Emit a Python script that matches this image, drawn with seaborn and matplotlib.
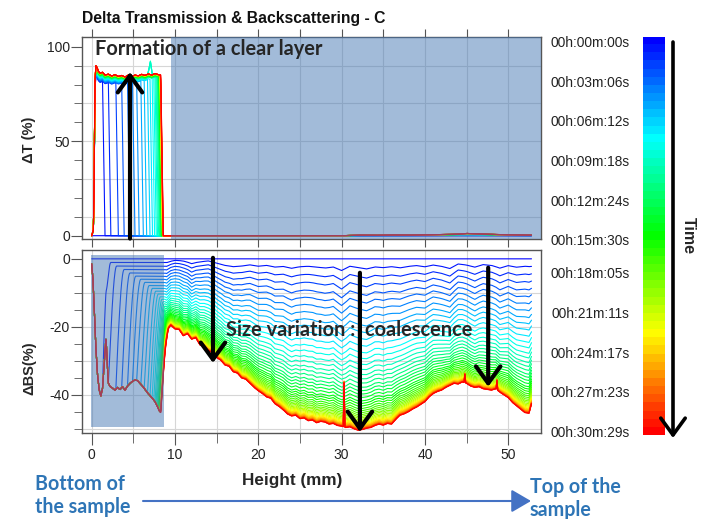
import numpy as np
import pandas as pd
import matplotlib
matplotlib.use("Agg")
import matplotlib.pyplot as plt
import seaborn as sns
from matplotlib.colors import LinearSegmentedColormap, ListedColormap, to_hex
from matplotlib.patches import Rectangle, FancyArrowPatch

# ---------------- data ----------------
time_labels = ["00h:00m:00s", "00h:03m:06s", "00h:06m:12s", "00h:09m:18s",
               "00h:12m:24s", "00h:15m:30s", "00h:18m:05s", "00h:21m:11s",
               "00h:24m:17s", "00h:27m:23s", "00h:30m:29s"]

# relative depth of each scan (fraction of the final ΔBS profile)
amplitude = [0, .053, .105, .155, .205, .25, .295, .34, .385, .425,
             .465, .505, .545, .58, .615, .645, .675, .70, .725, .75,
             .77, .79, .81, .83, .845, .86, .875, .888, .90, .911,
             .921, .93, .939, .947, .954, .961, .967, .972, .977, .981,
             .985, .988, .991, .993, .995, .997, .998, .999, 1.0]
# position (mm) of the clear-layer front for each scan
front_mm = [0, 1.3, 2.0, 2.9, 3.6, 4.3, 4.9, 5.4, 5.9, 6.3,
            6.7, 7.0, 7.25, 7.45, 7.6, 7.72, 7.82, 7.9, 7.96, 8.0,
            8.04, 8.07, 8.1, 8.12, 8.14, 8.16, 8.17, 8.18, 8.19, 8.2,
            8.2, 8.21, 8.21, 8.22, 8.22, 8.23, 8.23, 8.24, 8.24, 8.25,
            8.25, 8.26, 8.26, 8.27, 8.27, 8.28, 8.28, 8.29, 8.3]

# ΔBS inside the clear layer (mm, %)
clear_bs_x = [0.0, 0.15, 0.3, 0.5, 0.7, 0.9, 1.1, 1.3, 1.45, 1.6, 1.72, 1.85, 2.0,
              2.2, 2.5, 2.8, 3.1, 3.4, 3.7, 4.0, 4.3, 4.6, 4.9, 5.2, 5.5, 5.8,
              6.1, 6.4, 6.7, 7.0, 7.3, 7.6, 7.9, 8.1, 8.3, 8.5]
clear_bs_y = [-1.5, -6, -14, -26, -34, -38.5, -40.3, -38, -33, -27, -23, -30, -36.5,
              -37.5, -38, -38.6, -37.8, -38.4, -37.6, -38.6, -37.4, -36.6, -36.0, -35.6, -35.8, -36.6,
              -37.4, -38.4, -39.4, -40.2, -41.0, -42.0, -43.4, -44.6, -45.2, -45.3]

# final ΔBS profile of the turbid part (mm, %)
final_bs_x = [0.0, 8.8] + [9.0 + 0.5 * k for k in range(88)] + [52.8]
final_bs_y = [-20.0, -20.5,
              -21.0, -19.5, -20.6, -20.8, -22.6, -22.0, -23.6, -23.2, -25.3, -25.8,
              -27.0, -27.6, -29.0, -29.8, -31.2, -31.6, -33.2, -33.6, -35.0, -35.4,
              -36.6, -37.8, -38.8, -39.6, -40.6, -41.0, -42.6, -43.4, -44.4, -45.6,
              -46.2, -46.0, -47.0, -46.8, -47.6, -47.4, -48.2, -47.8, -48.0, -48.6,
              -48.4, -49.0, -49.2, -49.6, -49.4, -50.0, -50.4, -50.2, -49.8, -49.6,
              -49.0, -48.6, -48.9, -48.4, -48.6, -47.2, -46.0, -45.6, -45.0, -44.2,
              -43.6, -42.8, -42.0, -40.6, -39.6, -39.0, -38.6, -37.8, -37.2, -36.6,
              -36.8, -36.2, -36.6, -37.4, -37.8, -37.6, -38.2, -38.4, -38.6, -38.2,
              -39.2, -40.0, -40.8, -42.2, -43.2, -44.2, -45.2, -45.4,
              -42.6]
# narrow peaks seen only on the last (orange / red) scans
spike_x = [30.3, 44.8, 48.65]
spike_y = [-36.5, -34.0, -35.8]

# texture of the early (blue) scans above the clear layer
wiggle_x = list(range(9, 54))
wiggle_y = [0.0, 1.2, 1.0, -0.3, 0.8, 1.5, 0.5, -0.5, -1.0, -0.5,
            0.3, -0.2, 0.4, -0.3, 0.2, -0.6, 0.3, 0.6, 0.2, -0.3,
            0.3, -1.5, 0.8, 0.2, -0.6, 0.4, 0.0, 0.5, -0.4, 0.3,
            0.6, -0.2, 0.5, -0.3, -1.6, 0.8, 0.2, -0.8, 0.6, 0.2,
            -1.2, 0.3, -0.3, 0.4, 0.0]

# ΔT inside the clear layer (mm, %)
clear_t_x = [0.0, 0.2, 0.3, 0.38, 0.5, 0.65, 0.8, 1.0, 1.3, 1.6, 2.0, 2.4, 2.8, 3.2,
             3.6, 4.0, 4.4, 4.8, 5.2, 5.6, 6.0, 6.4, 6.8, 7.2, 7.6, 8.0, 8.3]
clear_t_y = [0, 3, 30, 80, 90, 89, 87, 86, 86.5, 85, 85.5, 84.5, 85.2, 84.3,
             84.8, 84.0, 85.0, 84.2, 85.0, 84.6, 85.4, 84.8, 85.6, 85.0, 85.8, 85.2, 85.0]
# ΔT overshoot of the cyan scans near the front
overshoot_x = [6.6, 6.85, 7.05, 7.25, 7.5]
overshoot_y = [0, 4, 9, 3, 0]
# ΔT of the turbid part (final scan)
turb_t_x = [0, 30, 32, 34, 36, 38, 40, 42, 44, 45, 46, 47, 48, 50, 52, 53]
turb_t_y = [0, 0, 0.3, 0.2, 0.4, 0.3, 0.5, 0.6, 0.8, 1.2, 1.0, 0.9, 0.7, 0.5, 0.3, 0.3]

height_ticks = [0, 10, 20, 30, 40, 50]

# ---------------- build the scan curves ----------------
xg = np.round(np.arange(0, 52.8001, 0.05), 3)
clear_bs = np.interp(xg, clear_bs_x, clear_bs_y)
turb_bs = np.interp(xg, final_bs_x, final_bs_y)
spike_delta = np.zeros_like(xg)
for sx, sy in zip(spike_x, spike_y):
    base = float(np.interp(sx, final_bs_x, final_bs_y))
    spike_delta += np.interp(xg, [sx - 0.1, sx, sx + 0.1], [0, sy - base, 0], left=0, right=0)
wig = np.interp(xg, wiggle_x, wiggle_y, left=0, right=0)
clear_t = np.interp(xg, clear_t_x, clear_t_y)
over_t = np.interp(xg, overshoot_x, overshoot_y, left=0, right=0)
turb_t = np.interp(xg, turb_t_x, turb_t_y)

n = len(amplitude)
cmap = LinearSegmentedColormap.from_list(
    "time", ["#0000ff", "#00ffff", "#00ff00", "#ffff00", "#ff0000"])
colors = [to_hex(cmap(i / (n - 1))) for i in range(n)]
scan_ids = [f"s{i:02d}" for i in range(n)]
palette = dict(zip(scan_ids, colors))

rows = []
for i, (a, f) in enumerate(zip(amplitude, front_mm)):
    if i == 0:
        bs = np.zeros_like(xg)
        tt = np.zeros_like(xg)
    else:
        w = np.sqrt(a) * (1 - a) * 2.5
        turb = a * turb_bs + w * wig
        if i >= n - 8:
            turb = turb + spike_delta
        g = np.sin(np.pi / 2 * np.clip((xg - f) / 1.0, 0, 1))
        bs = clear_bs * (1 - g) + turb * g
        gt = np.clip((xg - f) / 0.3, 0, 1)
        plateau = clear_t * (0.94 + 0.06 * a)
        if 7.2 <= f < 7.75:
            plateau = plateau + over_t
        tt = plateau * (1 - gt) + a * turb_t * gt
    rows.append(pd.DataFrame({"height": xg, "dBS": bs, "dT": tt, "scan": scan_ids[i]}))
df = pd.concat(rows, ignore_index=True)

# ---------------- figure ----------------
sns.set_style("white")
plt.rcParams["font.family"] = ["Liberation Sans", "DejaVu Sans"]
plt.rcParams["axes.unicode_minus"] = False

W, H = 704, 519
fig = plt.figure(figsize=(W / 100, H / 100), dpi=100)


def fig_rect(x0, y0, x1, y1):
    return [x0 / W, 1 - y1 / H, (x1 - x0) / W, (y1 - y0) / H]


ax_t = fig.add_axes(fig_rect(81.7, 36.7, 541, 239.3))
ax_b = fig.add_axes(fig_rect(81.7, 250, 541, 433))
cax = fig.add_axes(fig_rect(643, 36.7, 665, 435))

grid_c = "#d6d6d6"
spine_c = "#555555"
tick_kw = dict(labelsize=10, labelcolor="#222222", color=spine_c)

# top panel: ΔT
sns.lineplot(data=df, x="height", y="dT", hue="scan", hue_order=scan_ids,
             palette=palette, estimator=None, sort=False, legend=False,
             linewidth=0.8, ax=ax_t, zorder=2)
ax_t.set_xlim(-1.2, 53.94)
ax_t.set_ylim(-1.9, 105.3)
for xv in np.arange(0, 55, 5):
    ax_t.axvline(xv, color=grid_c, lw=0.8, zorder=0.5)
for yv in [10, 30, 50, 70, 90]:
    ax_t.axhline(yv, color=grid_c, lw=0.8, zorder=0.5)
ax_t.axvspan(9.58, 54.5, color="#4678b4", alpha=0.5, lw=0, zorder=3)
ax_t.set_xticks(np.arange(0, 55, 5))
ax_t.set_xticklabels([])
ax_t.set_yticks([0, 50, 100])
ax_t.set_yticks(np.arange(0, 101, 10), minor=True)
ax_t.tick_params(axis="x", which="both", top=True, bottom=True, direction="out", length=6, **tick_kw)
ax_t.tick_params(axis="y", which="major", left=True, direction="out", length=8, pad=0.5, **tick_kw)
ax_t.tick_params(axis="y", which="minor", left=True, direction="out", length=5.5, **tick_kw)
ax_t.set_xlabel("")
ax_t.set_ylabel("")

# bottom panel: ΔBS
sns.lineplot(data=df, x="height", y="dBS", hue="scan", hue_order=scan_ids,
             palette=palette, estimator=None, sort=False, legend=False,
             linewidth=0.8, ax=ax_b, zorder=2)
ax_b.set_xlim(-1.2, 53.94)
ax_b.set_ylim(-51.2, 2.6)
for xv in np.arange(0, 55, 5):
    ax_b.axvline(xv, color=grid_c, lw=0.8, zorder=0.5)
for yv in [-10, -20, -30, -40, -50]:
    ax_b.axhline(yv, color=grid_c, lw=0.8, zorder=0.5)
ax_b.add_patch(Rectangle((-0.1, -49.4), 8.8, 50.6, facecolor="#4678b4",
                         alpha=0.5, lw=0, zorder=3))
ax_b.set_xticks(height_ticks)
ax_b.set_xticks(np.arange(0, 55, 5), minor=True)
ax_b.set_yticks([0, -20, -40])
ax_b.set_yticks(np.arange(-50, 1, 5), minor=True)
ax_b.tick_params(axis="x", which="major", bottom=True, direction="out", length=8.5, pad=2.5, **tick_kw)
ax_b.tick_params(axis="x", which="minor", bottom=True, direction="out", length=7, **tick_kw)
ax_b.tick_params(axis="y", which="major", left=True, direction="out", length=8, pad=0.5, **tick_kw)
ax_b.tick_params(axis="y", which="minor", left=True, direction="out", length=5.5, **tick_kw)
ax_b.set_xlabel("")
ax_b.set_ylabel("")

for ax in (ax_t, ax_b):
    for s in ax.spines.values():
        s.set_color(spine_c)
        s.set_linewidth(1.0)
        s.set_visible(True)

# colour bar of time
cax.imshow(np.arange(n).reshape(-1, 1), cmap=ListedColormap(colors),
           aspect="auto", extent=(0, 1, 1, 0), interpolation="nearest")
cax.set_xlim(0, 1)
cax.set_ylim(1, 0)
label_px = [41.7, 81.7, 120.0, 160.0, 200.0, 239.3, 272.7, 312.7, 352.7, 391.7, 431.7]
cax.set_yticks([(p - 36.7) / (435 - 36.7) for p in label_px])
cax.set_yticklabels(time_labels)
cax.set_xticks([])
cax.tick_params(axis="y", left=True, right=False, length=0, pad=9.5,
                labelsize=9.9, labelcolor="#222222")
for s in cax.spines.values():
    s.set_visible(False)

# texts
fig.text(82 / W, 1 - 18 / H, "Delta Transmission & Backscattering - C",
         ha="left", va="center", fontsize=11.3, fontweight="bold", color="#111111")
fig.text(29 / W, 1 - 140 / H, "ΔT (%)", rotation=90, ha="center", va="center",
         fontsize=10.5, fontweight="bold")
fig.text(29 / W, 1 - 368 / H, "ΔBS(%)", rotation=90, ha="center", va="center",
         fontsize=10.5, fontweight="bold")
fig.text(292 / W, 1 - 480 / H, "Height (mm)", ha="center", va="center",
         fontsize=12.3, fontweight="bold")

ann_font = ["Lato", "DejaVu Sans"]
arrow_kw = dict(arrowstyle="->,head_length=0.55,head_width=0.4", lw=3, color="black",
                shrinkA=0, shrinkB=0, mutation_scale=22)

ax_t.annotate("", xy=(4.6, 86.6), xytext=(4.6, -1.5), arrowprops=arrow_kw,
              annotation_clip=False, zorder=6)
ax_t.text(0.4, 99, "Formation of a clear layer", ha="left", va="center",
          fontsize=14.4, fontweight="bold", family=ann_font, zorder=7)

ax_b.annotate("", xy=(14.56, -30.6), xytext=(14.56, 0.3), arrowprops=arrow_kw,
              annotation_clip=False, zorder=6)
ax_b.annotate("", xy=(32.2, -50.9), xytext=(32.2, -4.1), arrowprops=arrow_kw,
              annotation_clip=False, zorder=6)
ax_b.annotate("", xy=(47.6, -37.6), xytext=(47.6, -2.6), arrowprops=arrow_kw,
              annotation_clip=False, zorder=6)
ax_b.text(16.1, -20.9, "Size variation :  coalescence", ha="left", va="center",
          fontsize=14.4, fontweight="bold", family=ann_font, zorder=7)

# time arrow next to colour bar
fig.add_artist(FancyArrowPatch(
    (673 / W, 1 - 42 / H), (673 / W, 1 - 438 / H), transform=fig.transFigure,
    arrowstyle="->,head_length=0.55,head_width=0.4", lw=2.6, color="black",
    mutation_scale=22, shrinkA=0, shrinkB=0))
fig.text(688 / W, 1 - 236 / H, "Time", rotation=-90, ha="center", va="center",
         fontsize=11.5, fontweight="bold")

# sample orientation
blue = "#2e75b6"
for txt, x, y in [("Bottom of", 35, 484), ("the sample", 35, 507),
                  ("Top of the", 530, 487), ("sample", 530, 510)]:
    fig.text(x / W, 1 - y / H, txt, ha="left", va="center", fontsize=14.1,
             fontweight="bold", color=blue, family=ann_font)
fig.add_artist(FancyArrowPatch(
    (143 / W, 1 - 501 / H), (531 / W, 1 - 501 / H), transform=fig.transFigure,
    arrowstyle="-|>,head_length=0.6,head_width=0.35", lw=1.5, color="#4472c4",
    mutation_scale=20, shrinkA=0, shrinkB=0))

fig.savefig("out.png", dpi=100)
